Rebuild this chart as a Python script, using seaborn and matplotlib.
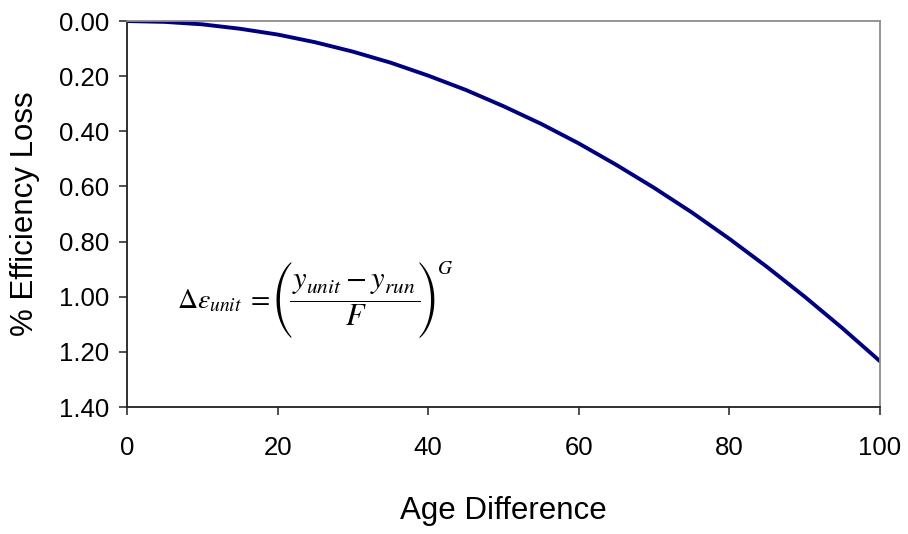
## Efficiency loss vs age difference chart

# Imports
import numpy as np
import matplotlib
matplotlib.use("Agg")
import matplotlib.pyplot as plt
import seaborn as sns

############################# Data ################################

# Age difference (x) and % efficiency loss
age_diff = [0, 5, 10, 15, 20, 25, 30, 35, 40, 45, 50,
            55, 60, 65, 70, 75, 80, 85, 90, 95, 100]
eff_loss = [0.000, 0.003, 0.012, 0.028, 0.049, 0.077, 0.111, 0.151, 0.198, 0.250, 0.309,
            0.373, 0.444, 0.522, 0.605, 0.694, 0.790, 0.892, 1.000, 1.114, 1.234]

# Tick labels
x_ticks = [0, 20, 40, 60, 80, 100]
y_ticks = [0.0, 0.2, 0.4, 0.6, 0.8, 1.0, 1.2, 1.4]

############################# Plotting ################################

sns.set_style("ticks")
plt.rcParams["font.family"] = ["Liberation Sans", "DejaVu Sans"]
plt.rcParams["mathtext.fontset"] = "stix"

W, H = 908, 534
fig = plt.figure(figsize = (W / 100, H / 100), dpi = 100)
ax = fig.add_axes([0.1399, 0.2378, 0.8293, 0.7228])

# Curve
sns.lineplot(x = age_diff, y = eff_loss, color = "#000080", linewidth = 2.8, ax = ax)

# Axes limits, inverted y
ax.set_xlim(0, 100)
ax.set_ylim(1.4, 0.0)
ax.set_xticks(x_ticks)
ax.set_yticks(y_ticks)
ax.set_yticklabels([f"{v:.2f}" for v in y_ticks])

# Tick styling
ax.tick_params(axis = "both", direction = "out", length = 6, width = 1.1,
               color = "#202020", labelsize = 18.5, labelcolor = "black")
ax.tick_params(axis = "y", pad = 7)
ax.tick_params(axis = "x", pad = 15)

# Spines: black left/bottom, grey top/right
for side in ["left", "bottom"]:
    ax.spines[side].set_color("#202020")
    ax.spines[side].set_linewidth(1.3)
for side in ["top", "right"]:
    ax.spines[side].set_visible(True)
    ax.spines[side].set_color("#8c8c8c")
    ax.spines[side].set_linewidth(1.3)

# Axis titles
ax.set_xlabel("Age Difference", fontsize = 22.5, va = "center", color = "black")
ax.set_ylabel("% Efficiency Loss", fontsize = 22.5, va = "center", color = "black")
ax.xaxis.set_label_coords(0.5, -0.27)
ax.yaxis.set_label_coords(-0.1355, 0.5)

# Equation, built from pieces so the brackets can be tall (pixel positions)
def px(x, y):
    return x / W, 1 - y / H

fig.text(*px(177, 308), r"$\Delta\varepsilon_{unit}\;=$", fontsize = 20,
         ha = "left", va = "baseline", color = "black")
fig.text(*px(355, 301), r"$\dfrac{\,y_{unit} - y_{run}\,}{F}$", fontsize = 22,
         ha = "center", va = "center", color = "black")
fig.text(*px(282, 300), "(", family = "STIXSizeThreeSym", fontsize = 22,
         ha = "center", va = "center", color = "black")
fig.text(*px(428, 300), ")", family = "STIXSizeThreeSym", fontsize = 22,
         ha = "center", va = "center", color = "black")
fig.text(*px(437, 261), r"$G$", fontsize = 14,
         ha = "left", va = "top", color = "black")

plt.savefig("out.png", dpi = 100)
plt.close()
